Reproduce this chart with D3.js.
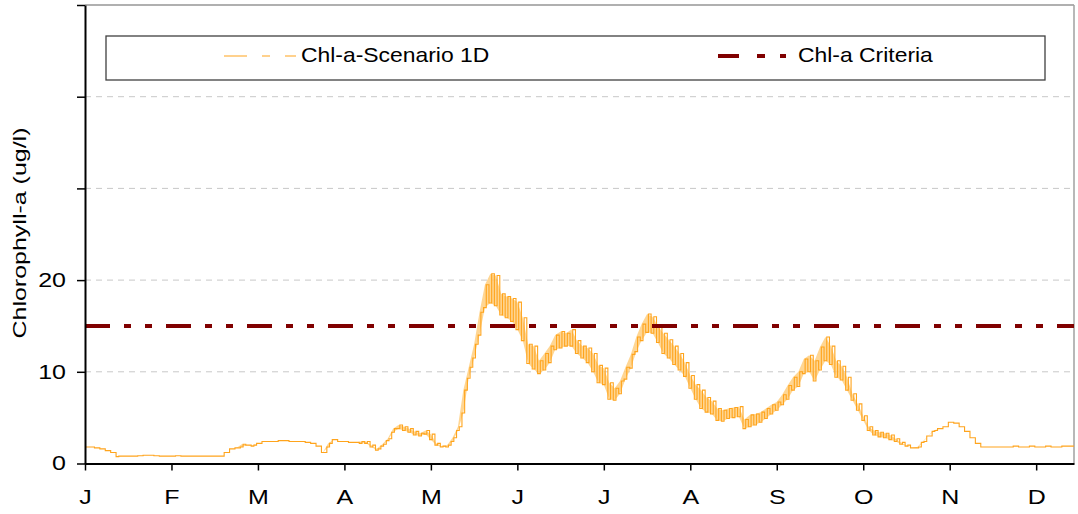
<!DOCTYPE html>
<html>
<head>
<meta charset="utf-8">
<script src="https://cdn.jsdelivr.net/npm/d3@7"></script>
<style>
  body { margin: 0; background: #fff; }
  text { font-family: Arial, "Liberation Sans", sans-serif; fill: #000; }
</style>
</head>
<body>
<svg id="chart" width="1078" height="514"></svg>
<script>

// month ticks along the x axis (day of year)
const monthLabels = ["J", "F", "M", "A", "M", "J", "J", "A", "S", "O", "N", "D"];
const monthTickDays = [0, 32, 64, 96, 128, 160, 192, 224, 256, 288, 320, 352];

const yTicks = [0, 10, 20, 30, 40, 50];
const yTickLabels = ["0", "10", "20", "", "", ""];

// Chl-a scenario 1D, read every 2 days: daily low and daily high
const sampleDays = d3.range(0, 367, 2);
const chlLow = [
  1.8, 1.8, 1.7, 1.6, 1.4, 1.2, 0.75, 0.8, 0.8, 0.8, 0.85, 0.9, 0.9, 0.85, 0.8, 0.8,
  0.8, 0.85, 0.8, 0.8, 0.8, 0.8, 0.8, 0.8, 0.8, 0.8, 1.2, 1.6, 1.7, 1.8, 2.0, 1.9,
  2.2, 2.4, 2.4, 2.4, 2.5, 2.5, 2.4, 2.4, 2.4, 2.3, 2.2, 1.9, 1.2, 1.8, 2.6, 2.4,
  2.4, 2.3, 2.3, 2.2, 2.2, 1.8, 1.45, 1.9, 2.5, 3.4, 3.8, 3.6, 3.4, 3.1, 3.0, 3.2,
  2.6, 2.0, 1.8, 1.8, 2.4, 3.6, 5.5, 9.3, 11.5, 14.0, 17.0, 17.5, 17.2, 16.2, 15.9, 15.5,
  14.6, 13.4, 10.9, 10.3, 9.8, 10.2, 11.0, 12.4, 12.6, 12.8, 12.8, 12.0, 11.5, 11.0, 10.0, 8.8,
  8.6, 7.0, 6.9, 7.6, 9.2, 10.4, 12.2, 13.4, 14.3, 14.2, 13.2, 12.0, 11.5, 10.8, 10.2, 9.5,
  8.2, 7.0, 6.0, 5.6, 5.4, 4.7, 4.6, 4.9, 5.0, 5.1, 3.8, 4.0, 4.2, 4.5, 4.9, 5.4,
  5.8, 6.4, 7.0, 8.0, 8.4, 9.8, 10.0, 9.0, 10.2, 11.2, 10.8, 9.4, 9.1, 8.0, 6.9, 5.8,
  4.7, 3.6, 3.1, 2.9, 2.8, 2.6, 2.4, 2.1, 1.9, 1.7, 1.7, 2.3, 3.0, 3.5, 3.8, 4.0,
  4.5, 4.4, 4.0, 3.5, 2.8, 2.2, 1.8, 1.8, 1.8, 1.8, 1.8, 1.8, 1.9, 1.8, 1.8, 1.9,
  1.8, 1.8, 1.9, 1.8, 1.8, 1.9, 1.9, 1.9
];
const chlHigh = [
  1.8, 1.8, 1.7, 1.6, 1.4, 1.2, 0.8, 0.8, 0.8, 0.8, 0.85, 0.9, 0.9, 0.85, 0.8, 0.8,
  0.8, 0.85, 0.8, 0.8, 0.8, 0.8, 0.8, 0.8, 0.8, 0.8, 1.2, 1.6, 1.7, 2.1, 2.0, 2.0,
  2.2, 2.4, 2.4, 2.4, 2.5, 2.5, 2.4, 2.4, 2.4, 2.3, 2.2, 1.9, 1.2, 2.2, 2.6, 2.4,
  2.4, 2.3, 2.3, 2.4, 2.4, 2.0, 1.6, 2.1, 2.7, 3.8, 4.2, 4.0, 3.8, 3.5, 3.3, 3.6,
  3.2, 2.2, 1.9, 2.0, 2.8, 4.0, 8.0, 10.5, 13.0, 16.5, 19.5, 20.7, 20.5, 18.5, 18.2, 18.0,
  17.6, 15.9, 13.0, 12.8, 11.2, 12.0, 12.8, 14.0, 14.4, 14.2, 14.6, 13.4, 12.8, 12.6, 12.0, 10.7,
  10.4, 8.8, 8.2, 9.0, 10.5, 11.9, 13.8, 15.2, 16.3, 16.0, 15.0, 14.2, 13.5, 12.8, 12.0, 11.0,
  9.6, 8.6, 8.0, 7.2, 6.8, 6.0, 5.8, 6.0, 6.1, 6.2, 4.8, 5.3, 5.4, 5.6, 6.0, 6.4,
  6.7, 7.5, 8.5, 9.4, 10.0, 11.4, 11.8, 11.2, 12.7, 13.8, 12.8, 11.2, 10.6, 9.4, 7.6, 6.5,
  5.2, 4.0, 3.6, 3.4, 3.3, 3.1, 2.7, 2.3, 2.0, 1.7, 1.8, 2.4, 3.0, 3.6, 3.8, 4.0,
  4.5, 4.4, 4.0, 3.5, 2.8, 2.2, 1.8, 1.8, 1.8, 1.8, 1.8, 1.8, 1.9, 1.8, 1.8, 1.9,
  1.8, 1.8, 1.9, 1.8, 1.8, 1.9, 1.9, 1.9
];

const criteriaDays = [0, 366];
const criteriaValues = [15, 15];

const seriesNames = ["Chl-a-Scenario 1D", "Chl-a Criteria"];
const seriesColors = ["#FFA41C", "#800000"];


let svg = d3.select("#chart");

let plotLeft = 85, plotRight = 1074, plotTop = 5, plotBottom = 463.5;

let x = d3.scaleLinear().domain([0, 366]).range([plotLeft, plotRight]);
let y = d3.scaleLinear().domain([0, 50]).range([plotBottom, plotTop]);

// stretch text sideways, the original font renders wider than Arial
let stretch = (sel, k) => sel.each(function () {
    let w = this.getComputedTextLength();
    if (w > 0) d3.select(this).attr("textLength", w * k).attr("lengthAdjust", "spacingAndGlyphs");
});

// gridlines
svg.append("g")
    .selectAll("line")
    .data(yTicks.filter(d => d > 0 && d < 50))
    .join("line")
    .attr("x1", plotLeft).attr("x2", plotRight)
    .attr("y1", d => y(d)).attr("y2", d => y(d))
    .attr("stroke", "#c8c8c8")
    .attr("stroke-dasharray", "6,5");

// frame top / right
svg.append("line")
    .attr("x1", plotLeft).attr("x2", plotRight).attr("y1", plotTop).attr("y2", plotTop)
    .attr("stroke", "#b0b0b0").attr("stroke-width", 2);
svg.append("line")
    .attr("x1", plotRight).attr("x2", plotRight).attr("y1", plotTop).attr("y2", plotBottom)
    .attr("stroke", "#a0a0a0").attr("stroke-width", 1.5);

// scenario line: daily low then daily high
let chlPoints = [];
sampleDays.forEach((d, i) => {
    chlPoints.push([d, chlLow[i], chlHigh[i]]);
});
let zigzag = [];
chlPoints.forEach(p => {
    zigzag.push([p[0], p[1]]);
    if (p[0] + 1 <= 366) zigzag.push([p[0] + 1, p[2]]);
});

// pale band between lows and highs (the dense daily swing)
svg.append("path")
    .datum(chlPoints)
    .attr("fill", "#ffcc78")
    .attr("opacity", 0.8)
    .attr("d", d3.area()
        .x(d => x(d[0]))
        .y0(d => y(d[1]))
        .y1(d => y(d[2])));

svg.append("path")
    .datum(zigzag)
    .attr("fill", "none")
    .attr("stroke", seriesColors[0])
    .attr("stroke-width", 1.1)
    .attr("d", d3.line()
        .x(d => x(d[0]))
        .y(d => y(d[1]))
        .curve(d3.curveStep));

// criteria line
let critLine = d3.line()
    .x((d, i) => x(criteriaDays[i]))
    .y(d => y(d));

svg.append("path")
    .datum(criteriaValues)
    .attr("fill", "none")
    .attr("stroke", seriesColors[1])
    .attr("stroke-width", 4)
    .attr("stroke-dasharray", "25,14,7,14,7,14")
    .attr("d", critLine);

// axes
let yAxis = svg.append("g")
    .attr("transform", `translate(${plotLeft},0)`)
    .call(d3.axisLeft(y)
        .tickValues(yTicks)
        .tickSize(8)
        .tickSizeOuter(0)
        .tickPadding(11)
        .tickFormat((d, i) => yTickLabels[i]));

let xAxis = svg.append("g")
    .attr("transform", `translate(0,${plotBottom})`)
    .call(d3.axisBottom(x)
        .tickValues(monthTickDays)
        .tickSize(7)
        .tickSizeOuter(0)
        .tickPadding(19)
        .tickFormat((d, i) => monthLabels[i]));

[yAxis, xAxis].forEach(a => {
    a.select(".domain").attr("stroke", "#000").attr("stroke-width", 2);
    a.selectAll(".tick line").attr("stroke", "#000").attr("stroke-width", 1.5);
    a.selectAll("text").attr("font-size", 20).attr("font-family", "Arial, 'Liberation Sans', sans-serif");
    stretch(a.selectAll("text"), 1.25);
});

// y title
svg.append("text")
    .attr("transform", "translate(26,233) rotate(-90)")
    .attr("text-anchor", "middle")
    .attr("font-size", 19)
    .attr("textLength", 211)
    .attr("lengthAdjust", "spacingAndGlyphs")
    .text("Chlorophyll-a (ug/l)");

// legend
let legend = svg.append("g");
legend.append("rect")
    .attr("x", 106).attr("y", 36)
    .attr("width", 939).attr("height", 44)
    .attr("fill", "#fff")
    .attr("stroke", "#404040")
    .attr("stroke-width", 1.3);

let legendItems = [
    { x1: 224, x2: 296, tx: 301, width: 1.2, dash: "23,15,8,15,11" },
    { x1: 718, x2: 787, tx: 798, width: 4, dash: "21,18,8,15,6" }
];

legendItems.forEach((it, i) => {
    legend.append("line")
        .attr("x1", it.x1).attr("x2", it.x2)
        .attr("y1", 56).attr("y2", 56)
        .attr("stroke", seriesColors[i])
        .attr("stroke-width", it.width)
        .attr("stroke-dasharray", it.dash);
    legend.append("text")
        .attr("x", it.tx).attr("y", 62)
        .attr("font-size", 21)
        .text(seriesNames[i]);
});
stretch(legend.selectAll("text"), 1.09);

</script>
</body>
</html>
